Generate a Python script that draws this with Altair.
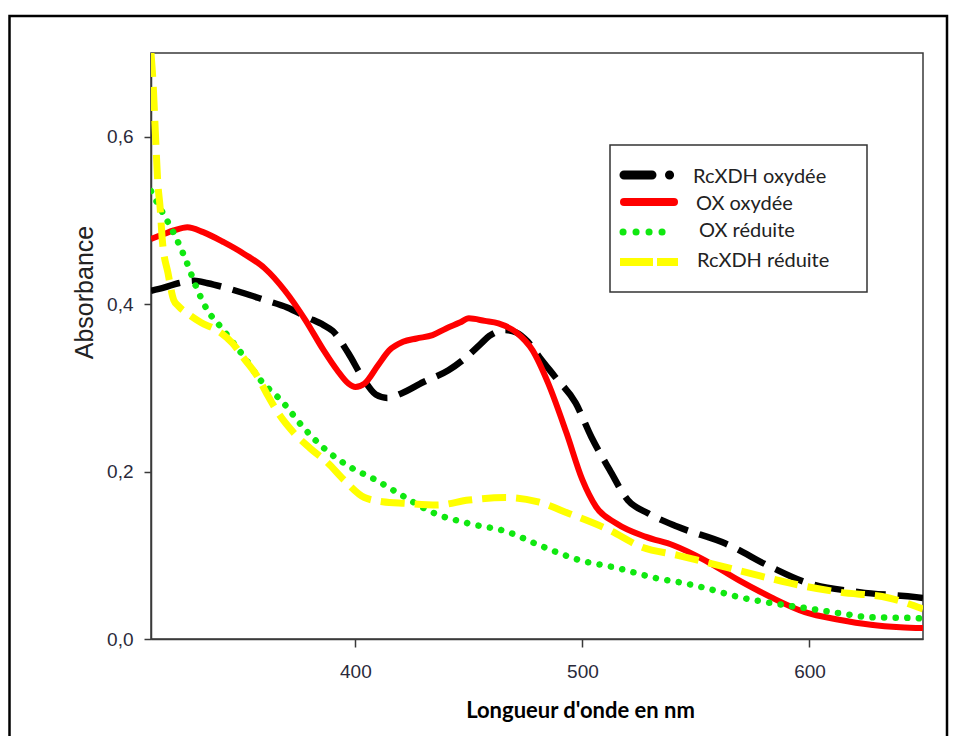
import altair as alt
import pandas as pd

# ---------------- data ----------------
series_names = ["RcXDH oxydée", "OX oxydée", "OX réduite", "RcXDH réduite"]

rcxdh_ox_nm = [310, 316, 322, 329, 335, 341, 351, 360, 370, 379, 386, 390, 397, 403,
               409, 414, 420, 430, 441, 449, 455, 459, 466, 471, 476, 481, 488, 497,
               504, 512, 520, 529, 542, 563, 583, 598, 622, 647, 650]
rcxdh_ox_abs = [0.416, 0.420, 0.425, 0.428, 0.425, 0.421, 0.413, 0.405, 0.396, 0.384,
                0.375, 0.368, 0.341, 0.313, 0.292, 0.288, 0.293, 0.307, 0.321, 0.337,
                0.352, 0.362, 0.369, 0.366, 0.355, 0.337, 0.313, 0.282, 0.241, 0.202,
                0.166, 0.150, 0.134, 0.114, 0.086, 0.068, 0.056, 0.050, 0.049]

ox_ox_nm = [310, 315, 320, 326, 333, 342, 351, 360, 369, 378, 386, 392, 397, 400,
            404, 410, 415, 421, 427, 434, 440, 446, 450, 457, 463, 471, 478, 485,
            493, 500, 506, 515, 528, 540, 554, 569, 583, 598, 613, 627, 640, 650]
ox_ox_abs = [0.478, 0.483, 0.488, 0.492, 0.486, 0.474, 0.460, 0.443, 0.416, 0.381,
             0.345, 0.321, 0.305, 0.301, 0.305, 0.327, 0.345, 0.355, 0.359, 0.363,
             0.371, 0.378, 0.383, 0.380, 0.377, 0.366, 0.345, 0.305, 0.246, 0.190,
             0.158, 0.138, 0.122, 0.112, 0.094, 0.070, 0.050, 0.032, 0.023, 0.017,
             0.014, 0.013]

ox_red_nm = [310, 315, 320, 325, 330, 335, 340, 345, 351, 358, 368, 377, 387, 398,
             409, 419, 435, 450, 467, 481, 499, 515, 532, 546, 554, 569, 583, 598,
             613, 627, 647, 650]
ox_red_abs = [0.535, 0.510, 0.485, 0.455, 0.420, 0.392, 0.375, 0.358, 0.337, 0.310,
              0.283, 0.253, 0.226, 0.205, 0.190, 0.174, 0.150, 0.138, 0.128, 0.112,
              0.094, 0.085, 0.073, 0.066, 0.061, 0.050, 0.043, 0.037, 0.031, 0.026,
              0.025, 0.024]

rcxdh_red_nm = [310, 311, 312, 313, 314, 315, 317.5, 320, 322, 326, 332, 339, 346,
                351, 357, 361, 366, 373, 380, 388, 395, 404, 412, 422, 436, 450, 466,
                480, 494, 512, 526, 542, 554, 573, 591, 613, 635, 650]
rcxdh_red_abs = [0.700, 0.660, 0.600, 0.545, 0.516, 0.476, 0.437, 0.405, 0.398, 0.389,
                 0.378, 0.369, 0.353, 0.335, 0.313, 0.293, 0.270, 0.246, 0.228, 0.210,
                 0.190, 0.169, 0.164, 0.162, 0.160, 0.166, 0.169, 0.164, 0.150, 0.130,
                 0.110, 0.100, 0.092, 0.079, 0.067, 0.056, 0.049, 0.036]

x_ticks = [400, 500, 600]
y_ticks = [0.0, 0.2, 0.4, 0.6]


def frame(nm, ab, name):
    return pd.DataFrame({"nm": nm, "A": ab, "serie": name})


df_bo = frame(rcxdh_ox_nm, rcxdh_ox_abs, series_names[0])
df_ro = frame(ox_ox_nm, ox_ox_abs, series_names[1])
df_gr = frame(ox_red_nm, ox_red_abs, series_names[2])
df_yr = frame(rcxdh_red_nm, rcxdh_red_abs, series_names[3])

# ---------------- scales / axes ----------------
X = alt.X("nm:Q",
          scale=alt.Scale(domain=[310, 650], nice=False, zero=False),
          axis=alt.Axis(values=x_ticks, title="Longueur d'onde en nm",
                        titleFont="Lato", titleFontWeight="bold", titleFontSize=22,
                        titleColor="black", titleX=429, titleY=78,
                        titleAlign="center", titleBaseline="alphabetic",
                        tickSize=8, labelPadding=15, grid=False,
                        labelFont="Liberation Sans", labelFontSize=19,
                        labelColor="#2a2a3a"))
Y = alt.Y("A:Q",
          scale=alt.Scale(domain=[0, 0.7], nice=False),
          axis=alt.Axis(values=y_ticks, title="Absorbance",
                        labelExpr="replace(format(datum.value, '.1f'), '.', ',')",
                        titleFont="Liberation Sans", titleFontWeight="normal",
                        titleFontSize=25, titleColor="#222222", titleAngle=270,
                        titleX=-59, titleY=239, titleAlign="center",
                        titleBaseline="alphabetic", tickSize=7, labelPadding=11,
                        grid=False, labelFont="Liberation Sans", labelFontSize=19,
                        labelColor="#2a2a3a"))


def curve(df, color, width, dash=None, cap="butt"):
    kw = dict(color=color, strokeWidth=width, strokeCap=cap, strokeJoin="round",
              clip=True, interpolate="monotone")
    if dash is not None:
        kw["strokeDash"] = dash
    return alt.Chart(df).mark_line(**kw).encode(x=X, y=Y)


black = curve(df_bo, "#000000", 6.5, dash=[30, 12])
red = curve(df_ro, "#FF0000", 6)
green = curve(df_gr, "#10E810", 6.5, dash=[0.1, 11.5], cap="round")
yellow = curve(df_yr, "#FFFF00", 7, dash=[24, 10])

one = pd.DataFrame({"k": [0]})

# outer picture frame
outer = alt.Chart(one).mark_rect(fillOpacity=0, stroke="black", strokeWidth=2.5).encode(
    x=alt.value(-141.5), x2=alt.value(796), y=alt.value(-37), y2=alt.value(720))

# legend
leg_box = alt.Chart(one).mark_rect(fill="white", stroke="#333333", strokeWidth=1.5).encode(
    x=alt.value(459), x2=alt.value(716), y=alt.value(92), y2=alt.value(239))

sym_black = alt.Chart(one).mark_rule(color="black", strokeWidth=9, strokeCap="round",
                                     strokeDash=[28, 17.5, 0.1, 40]).encode(
    x=alt.value(473), x2=alt.value(523), y=alt.value(122))
sym_red = alt.Chart(one).mark_rule(color="#FF0000", strokeWidth=8, strokeCap="round").encode(
    x=alt.value(473), x2=alt.value(523), y=alt.value(149))
sym_green = alt.Chart(one).mark_rule(color="#10E810", strokeWidth=7, strokeCap="round",
                                     strokeDash=[0.1, 12.9]).encode(
    x=alt.value(472), x2=alt.value(512), y=alt.value(179))
sym_yellow = alt.Chart(one).mark_rule(color="#FFFF00", strokeWidth=8,
                                      strokeDash=[33, 4, 30]).encode(
    x=alt.value(469), x2=alt.value(527), y=alt.value(209))


def leg_text(label, xpos, ypos):
    return alt.Chart(one).mark_text(align="left", baseline="alphabetic", font="Lato",
                                    fontSize=20, color="#222222").encode(
        x=alt.value(xpos), y=alt.value(ypos), text=alt.value(label))


texts = [leg_text(series_names[0], 542, 130),
         leg_text(series_names[1], 545, 157),
         leg_text(series_names[2], 548, 184),
         leg_text(series_names[3], 546, 214)]

chart = alt.layer(
    black, red, green, yellow, outer, leg_box,
    sym_black, sym_red, sym_green, sym_yellow, *texts
).properties(
    width=772, height=586,
    background="white",
    autosize=alt.AutoSizeParams(type="none"),
    padding={"left": 143, "top": 45, "right": 27, "bottom": 97},
).configure_view(
    stroke="#3a3a3a", strokeWidth=1.5
).configure_axis(
    grid=False, domainColor="#3a3a3a", domainWidth=1.5, tickColor="#3a3a3a",
    tickWidth=1.5, labelFont="Liberation Sans", labelFontSize=19,
    labelColor="#2a2a3a"
)

chart.save("out.html", embed_options={"renderer": "svg", "actions": False})
